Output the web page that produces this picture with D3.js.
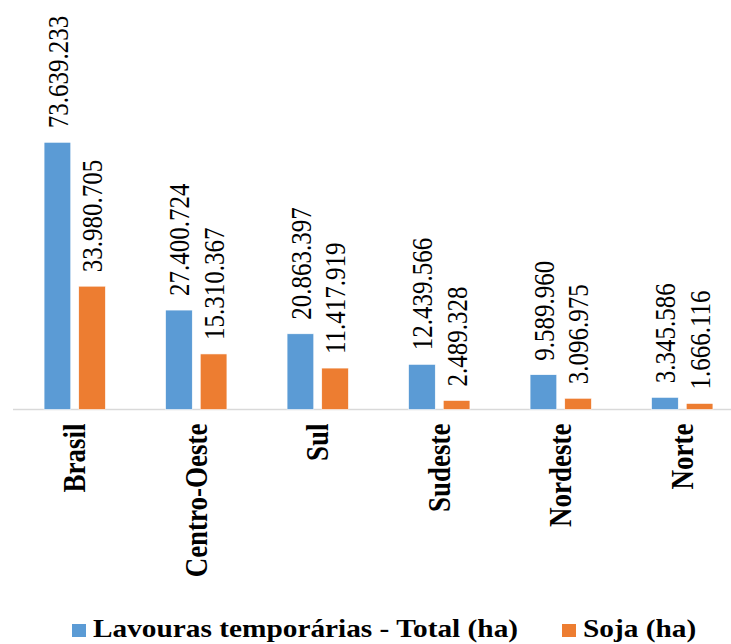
<!DOCTYPE html>
<html>
<head>
<meta charset="utf-8">
<script src="https://cdn.jsdelivr.net/npm/d3@7"></script>
<style>
  html, body { margin: 0; padding: 0; background: #fff; }
  svg { display: block; }
</style>
</head>
<body>
<svg id="chart" width="731" height="644"></svg>
<script>
// Regiões e áreas plantadas (ha)
const regioes = ["Brasil", "Centro-Oeste", "Sul", "Sudeste", "Nordeste", "Norte"];
const lavourasTotal = [73639233, 27400724, 20863397, 12439566, 9589960, 3345586];
const soja = [33980705, 15310367, 11417919, 2489328, 3096975, 1666116];
const seriesNames = ["Lavouras temporárias - Total (ha)", "Soja (ha)"];
const seriesColors = ["#5B9BD5", "#ED7D31"];

const fontSerif = "Liberation Serif";

const svg = d3.select("#chart");
const stretch = 1.15;   // horizontal stretch of the whole drawing
const baseY = 409.5;

const fmt = d3.formatLocale({ decimal: ",", thousands: ".", grouping: [3], currency: ["R$", ""] }).format(",d");

const x0 = d3.scaleBand().domain(regioes).range([14, 743]).paddingInner(0.495).paddingOuter(0.2475);
const x1 = d3.scaleBand().domain(d3.range(seriesNames.length)).range([0, x0.bandwidth()]).paddingInner(0.23);
const y = d3.scaleLinear().domain([0, 80000000]).range([baseY, baseY - 290.3]);

const rows = regioes.map((r, i) => ({ regiao: r, values: [lavourasTotal[i], soja[i]] }));

// axis line
svg.append("line")
  .attr("x1", 13).attr("x2", 731)
  .attr("y1", baseY).attr("y2", baseY)
  .attr("stroke", "#D9D9D9").attr("stroke-width", 1.5);

const groups = svg.selectAll("g.grupo").data(rows).join("g")
  .attr("class", "grupo")
  .attr("transform", d => `translate(${x0(d.regiao)},0)`);

groups.selectAll("rect").data(d => d.values.map((v, k) => ({ v, k }))).join("rect")
  .attr("x", d => x1(d.k))
  .attr("width", x1.bandwidth())
  .attr("y", d => y(d.v))
  .attr("height", d => y(0) - y(d.v))
  .attr("fill", d => seriesColors[d.k])
  .attr("stroke", "#fff")
  .attr("stroke-width", 0.6);

// value labels, rotated
groups.selectAll("g.valor").data(d => d.values.map((v, k) => ({ v, k }))).join("g")
  .attr("class", "valor")
  .attr("transform", d => `translate(${x1(d.k) + x1.bandwidth() / 2},${y(d.v) - 14}) scale(${stretch},1) rotate(-90)`)
  .append("text")
  .attr("dy", "0.36em")
  .attr("text-anchor", "start")
  .attr("font-family", fontSerif)
  .attr("font-size", 25)
  .attr("fill", "#000")
  .text(d => fmt(d.v));

// category labels, rotated and bold
svg.selectAll("g.cat").data(regioes).join("g")
  .attr("class", "cat")
  .attr("transform", d => `translate(${x0(d) + x0.bandwidth() / 2},${baseY + 14}) scale(${stretch},1) rotate(-90)`)
  .append("text")
  .attr("text-anchor", "end")
  .attr("dy", "0.34em")
  .attr("font-family", fontSerif)
  .attr("font-size", 27)
  .attr("font-weight", "bold")
  .attr("fill", "#000")
  .text(d => d);

// legend
const legendItems = [
  { sx: 72, tx: 93 },
  { sx: 562, tx: 583 }
];
const legend = svg.selectAll("g.leg").data(seriesNames).join("g").attr("class", "leg");
legend.append("rect")
  .attr("x", (d, i) => legendItems[i].sx)
  .attr("y", 624)
  .attr("width", 14).attr("height", 13)
  .attr("fill", (d, i) => seriesColors[i]);
legend.append("g")
  .attr("transform", (d, i) => `translate(${legendItems[i].tx},637) scale(${stretch},1)`)
  .append("text")
  .attr("font-family", fontSerif)
  .attr("font-size", 25.5)
  .attr("font-weight", "bold")
  .attr("fill", "#000")
  .text(d => d);
</script>
</body>
</html>
